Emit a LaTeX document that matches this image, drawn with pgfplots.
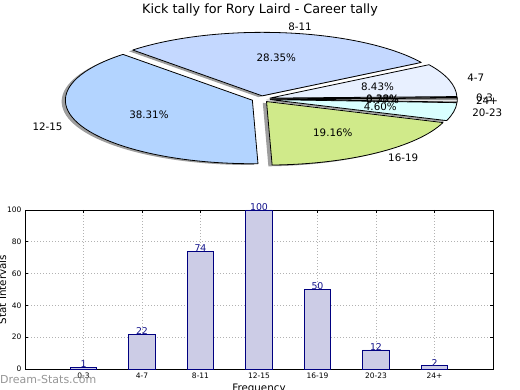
\documentclass[border=0pt]{standalone}
\usepackage{pgfplots}
\usepackage{pgfplotstable}
\pgfplotsset{compat=1.18}
\usepackage{fontspec}
\setmainfont{DejaVu Sans}

\definecolor{c0}{HTML}{F2F2F2}
\definecolor{c1}{HTML}{E8F0FF}
\definecolor{c2}{HTML}{C4D8FF}
\definecolor{c3}{HTML}{B3D4FF}
\definecolor{c4}{HTML}{D0EA8A}
\definecolor{c5}{HTML}{D9FFFF}
\definecolor{c6}{HTML}{E6E6E6}
\definecolor{barfill}{RGB}{204,204,230}
\definecolor{baredge}{RGB}{0,0,128}
\definecolor{barlab}{RGB}{20,20,140}
\definecolor{wm}{RGB}{150,150,150}

\pgfplotstableread{
label count
0-3 1
4-7 22
8-11 74
12-15 100
16-19 50
20-23 12
24+ 2
}\kicks

% ---- pie geometry computed from the table (in the preamble: no stray spaces) ----
\def\ex{0.05}
\def\total{0}
\pgfplotsforeachungrouped \k in {0,1,2,3,4,5,6}{%
  \pgfplotstablegetelem{\k}{count}\of\kicks
  \pgfmathsetmacro\total{\total+\pgfplotsretval}%
}
\def\acc{0}
\gdef\shadows{}\gdef\wedges{}\gdef\labels{}
\pgfplotsforeachungrouped \k in {0,1,2,3,4,5,6}{%
  \pgfplotstablegetelem{\k}{count}\of\kicks \let\cnt\pgfplotsretval
  \pgfplotstablegetelem{\k}{label}\of\kicks \let\lab\pgfplotsretval
  \pgfmathsetmacro\frac{\cnt/\total}%
  \pgfmathsetmacro\a{\acc}%
  \pgfmathsetmacro\b{\acc+360*\frac}%
  \pgfmathsetmacro\m{(\a+\b)/2}%
  \pgfmathsetmacro\ox{\ex*cos(\m)}%
  \pgfmathsetmacro\oy{\ex*sin(\m)}%
  \pgfmathsetmacro\px{\ox+cos(\a)}%
  \pgfmathsetmacro\py{\oy+sin(\a)}%
  \pgfmathsetmacro\sox{\ox-0.02}%
  \pgfmathsetmacro\soy{\oy-0.02}%
  \pgfmathsetmacro\spx{\px-0.02}%
  \pgfmathsetmacro\spy{\py-0.02}%
  \pgfmathsetmacro\lx{\ox+1.1*cos(\m)}%
  \pgfmathsetmacro\ly{\oy+1.1*sin(\m)}%
  \pgfmathsetmacro\tx{\ox+0.6*cos(\m)}%
  \pgfmathsetmacro\ty{\oy+0.6*sin(\m)}%
  \pgfmathsetmacro\pct{100*\frac}%
  \ifdim\lx pt>0pt \def\anch{west}\else\def\anch{east}\fi
  \xdef\shadows{\unexpanded\expandafter{\shadows}%
    \noexpand\fill[black,fill opacity=0.38,draw opacity=0.38,line width=0.8pt] (axis cs:\sox,\soy) -- (axis cs:\spx,\spy) arc[start angle=\a,end angle=\b,x radius=187pt,y radius=63.5pt] -- cycle;}%
  \xdef\wedges{\unexpanded\expandafter{\wedges}%
    \noexpand\filldraw[fill=c\k,draw=black,line width=0.8pt,line join=round] (axis cs:\ox,\oy) -- (axis cs:\px,\py) arc[start angle=\a,end angle=\b,x radius=187pt,y radius=63.5pt] -- cycle;}%
  \xdef\labels{\unexpanded\expandafter{\labels}%
    \noexpand\node[anchor=\anch,inner sep=0pt,font=\noexpand\fontsize{10.3}{12}\noexpand\selectfont] at (axis cs:\lx,\ly) {\lab};
    \noexpand\node[anchor=center,inner sep=0pt,font=\noexpand\fontsize{10.3}{12}\noexpand\selectfont] at (axis cs:\tx,\ty) {\noexpand\pgfmathprintnumber[fixed,fixed zerofill,precision=2,assume math mode=true]{\pct}\noexpand\%};}%
  \let\acc\b
}

\begin{document}%
\begin{tikzpicture}
\path (0,0) rectangle (520pt,390pt);
\begin{pgfinterruptboundingbox}

% ---- title ----
\node[font=\fontsize{12.8}{15}\selectfont, inner sep=0pt] at (260pt,380pt) {Kick tally for Rory Laird - Career tally};

% ---- pie ----
\begin{axis}[
  at={(261pt,291pt)}, anchor=center,
  scale only axis, hide axis, clip=false,
  x=187pt, y=63.5pt,
  xmin=-1.3, xmax=1.3, ymin=-1.3, ymax=1.3,
]
\addplot[draw=none, forget plot] coordinates {(0,0)};
\shadows
\wedges
\labels
\end{axis}

% ---- bars ----
\begin{axis}[
  at={(25pt,21pt)}, anchor=south west,
  scale only axis, width=468pt, height=159pt,
  xmin=-1, xmax=7, ymin=0, ymax=100,
  xtick={0,1,2,3,4,5,6},
  xticklabels from table={\kicks}{label},
  ytick={0,20,40,60,80,100},
  ybar, bar width=26.5pt,
  grid=major,
  grid style={draw=gray!60, line width=0.7pt, dash pattern=on 1pt off 2pt},
  tick align=inside, major tick length=3pt,
  tick style={black, line width=0.6pt},
  xtick pos=both, ytick pos=both,
  axis line style={line width=0.8pt},
  ticklabel style={font=\fontsize{7.5}{9}\selectfont},
  xticklabel style={yshift=-0.5pt},
  /pgf/number format/assume math mode=true,
  clip=false,
  nodes near coords,
  every node near coord/.append style={font=\fontsize{9.4}{11}\selectfont, text=barlab, anchor=base, inner sep=0pt, yshift=-0.5pt},
]
\addplot[fill=barfill, draw=baredge, line width=0.8pt] table[x expr=\coordindex, y=count] {\kicks};
\end{axis}

% ---- axis titles and watermark ----
\node[rotate=90, anchor=base, inner sep=0pt, font=\fontsize{10.3}{12}\selectfont] at (6pt,100.5pt) {Stat Intervals};
\node[anchor=base, inner sep=0pt, font=\fontsize{10.3}{12}\selectfont] at (259pt,-1.5pt) {Frequency};
\node[anchor=west, inner sep=0pt, text=wm, font=\fontsize{11}{13}\selectfont] at (0pt,10pt) {Dream-Stats.com};
\end{pgfinterruptboundingbox}
\end{tikzpicture}%
\end{document}
